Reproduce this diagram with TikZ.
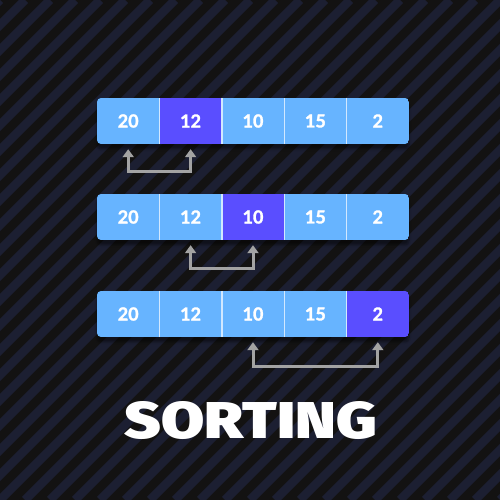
\documentclass[tikz,border=0pt]{standalone}
\usepackage{fontspec}
\setmainfont{Lato}
\newfontfamily\numfont{Lato Bold}[FakeBold=1.6]
\newfontfamily\titlefont{Fira Sans Black}
\usetikzlibrary{arrows.meta,shadows.blur}
\definecolor{bgdark}{HTML}{131212}
\definecolor{bgstripe}{HTML}{1C1F32}
\definecolor{cellblue}{HTML}{67B4FF}
\definecolor{cellpurple}{HTML}{5A4EFF}
\definecolor{divider}{HTML}{D2E8FF}
\definecolor{arrowgray}{HTML}{A3A3A3}
\tikzset{
  x=1pt, y=1pt,
  cell/.style={rectangle, inner sep=0pt, minimum width=62.4pt, minimum height=46pt,
    fill=cellblue, text=white, font=\numfont\fontsize{18}{20}\selectfont},
  hot/.style={fill=cellpurple},
  frame/.style={rounded corners=4pt},
  divline/.style={draw=divider, line width=1.1pt},
  swaparrow/.style={draw=arrowgray, line width=3pt,
    {Triangle[width=11pt,length=8pt]}-{Triangle[width=11pt,length=8pt]}},
}
\begin{document}
\begin{tikzpicture}
\useasboundingbox (0,0) rectangle (500,500);
% background with stripes
\fill[bgdark] (0,0) rectangle (500,500);
\begin{scope}
  \clip (0,0) rectangle (500,500);
  \foreach \i in {-22,...,22}{
    \draw[bgstripe, line width=8.8pt] (\i*25,0) -- ++(500,500);
  }
\end{scope}
% shadows of arrays
\foreach \t in {402,306,209}{
  \fill[frame, black, opacity=0, blur shadow={shadow blur steps=8, shadow xshift=0pt, shadow yshift=-5pt, shadow opacity=45}]
    (97,\t-46) rectangle (409,\t);
}
% row 1 (top 402, centre 379)
\begin{scope}
  \clip[frame] (97,356) rectangle (409,402);
  \node[cell] (r1c1) at (128.2,379) {20};
  \node[cell,hot] (r1c2) at (190.6,379) {12};
  \node[cell] (r1c3) at (253.0,379) {10};
  \node[cell] (r1c4) at (315.4,379) {15};
  \node[cell] (r1c5) at (377.8,379) {2};
\end{scope}
\foreach \a/\b in {r1c1/r1c2,r1c2/r1c3,r1c3/r1c4,r1c4/r1c5}
  \draw[divline] (\a.north east) -- (\a.south east);
% row 2 (centre 283)
\begin{scope}
  \clip[frame] (97,260) rectangle (409,306);
  \node[cell] (r2c1) at (128.2,283) {20};
  \node[cell] (r2c2) at (190.6,283) {12};
  \node[cell,hot] (r2c3) at (253.0,283) {10};
  \node[cell] (r2c4) at (315.4,283) {15};
  \node[cell] (r2c5) at (377.8,283) {2};
\end{scope}
\foreach \a/\b in {r2c1/r2c2,r2c2/r2c3,r2c3/r2c4,r2c4/r2c5}
  \draw[divline] (\a.north east) -- (\a.south east);
% row 3 (centre 186)
\begin{scope}
  \clip[frame] (97,163) rectangle (409,209);
  \node[cell] (r3c1) at (128.2,186) {20};
  \node[cell] (r3c2) at (190.6,186) {12};
  \node[cell] (r3c3) at (253.0,186) {10};
  \node[cell] (r3c4) at (315.4,186) {15};
  \node[cell,hot] (r3c5) at (377.8,186) {2};
\end{scope}
\foreach \a/\b in {r3c1/r3c2,r3c2/r3c3,r3c3/r3c4,r3c4/r3c5}
  \draw[divline] (\a.north east) -- (\a.south east);
% swap arrows
\draw[swaparrow] ([yshift=-5pt]r1c1.south) -- ++(0,-22) -| ([yshift=-5pt]r1c2.south);
\draw[swaparrow] ([yshift=-5pt]r2c2.south) -- ++(0,-23) -| ([yshift=-5pt]r2c3.south);
\draw[swaparrow] ([yshift=-5pt]r3c3.south) -- ++(0,-24) -| ([yshift=-5pt]r3c5.south);
% title
\node[text=white, inner sep=0pt] (title) at (251,79)
  {\resizebox{252pt}{37pt}{\titlefont SORTING}};
\end{tikzpicture}
\end{document}
